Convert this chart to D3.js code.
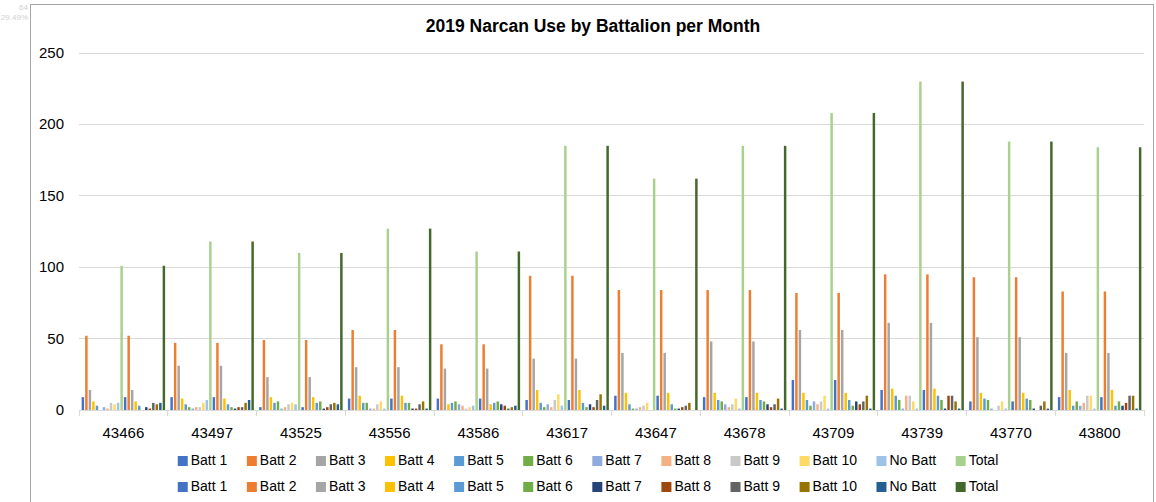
<!DOCTYPE html>
<html>
<head>
<title>2019 Narcan Use by Battalion per Month</title>
<style>
body { margin: 0; background: #fff; }
text { font-family: "Liberation Sans", Arial, sans-serif; fill: #000; }
.grid line, .xaxis line, .xaxis path { stroke: #d9d9d9; shape-rendering: crispEdges; }
</style>
</head>
<body>
<div id="chart"></div>
<script src="https://cdn.jsdelivr.net/npm/d3@7"></script>
<script>
var months = ["43466", "43497", "43525", "43556", "43586", "43617", "43647", "43678", "43709", "43739", "43770", "43800"];
var batt1  = [9, 9, 2, 8, 8, 7, 10, 9, 21, 14, 6, 9];
var batt2  = [52, 47, 49, 56, 46, 94, 84, 84, 82, 95, 93, 83];
var batt3  = [14, 31, 23, 30, 29, 36, 40, 48, 56, 61, 51, 40];
var batt4  = [6, 8, 9, 10, 4, 14, 12, 12, 12, 15, 12, 14];
var batt5  = [3, 4, 5, 5, 5, 5, 4, 7, 7, 10, 8, 3];
var batt6  = [0, 2, 6, 5, 6, 2, 1, 6, 3, 7, 7, 6];
var batt7  = [2, 1, 1, 1, 4, 4, 1, 4, 6, 1, 1, 3];
var batt8  = [1, 2, 2, 1, 3, 2, 2, 2, 4, 10, 0, 5];
var batt9  = [5, 2, 4, 4, 1, 7, 3, 4, 6, 10, 3, 10];
var batt10 = [4, 5, 5, 6, 2, 11, 5, 8, 10, 6, 6, 10];
var noBatt = [5, 7, 4, 1, 3, 3, 0, 1, 1, 1, 1, 1];
var total  = [101, 118, 110, 127, 111, 185, 162, 185, 208, 230, 188, 184];

var seriesNames = ["Batt 1", "Batt 2", "Batt 3", "Batt 4", "Batt 5", "Batt 6", "Batt 7", "Batt 8", "Batt 9", "Batt 10", "No Batt", "Total"];
var seriesValues = [batt1, batt2, batt3, batt4, batt5, batt6, batt7, batt8, batt9, batt10, noBatt, total];
var colors1 = ["#4472c4", "#ed7d31", "#a5a5a5", "#ffc000", "#5b9bd5", "#70ad47", "#8faadc", "#f4b183", "#c9c9c9", "#ffd966", "#9dc3e6", "#a9d18e"];
var colors2 = ["#4472c4", "#ed7d31", "#a5a5a5", "#ffc000", "#5b9bd5", "#70ad47", "#264478", "#9e480e", "#636363", "#997300", "#255e91", "#43682b"];
var yTicks = [0, 50, 100, 150, 200, 250];

// the chart shows the same table twice, the second copy in darker shades
var series = [];
[colors1, colors2].forEach(function(cols, s) {
    seriesNames.forEach(function(name, i) {
        series.push({ key: s + "-" + i, name: name, color: cols[i], values: seriesValues[i] });
    });
});

var W = 1156, H = 502;
var plot = { left: 79, right: 1144, top: 53, bottom: 410 };

var svg = d3.select("#chart").append("svg")
    .attr("width", W)
    .attr("height", H);

// faint stray labels at top left
svg.append("text").attr("x", 28).attr("y", 10).attr("text-anchor", "end")
    .style("font-size", "8px").style("fill", "#d0d0d0").text("64");
svg.append("text").attr("x", 28).attr("y", 20).attr("text-anchor", "end")
    .style("font-size", "8px").style("fill", "#d0d0d0").text("29.49%");

// chart frame
svg.append("rect")
    .attr("x", 30.5).attr("y", 4.5)
    .attr("width", 1123).attr("height", 520)
    .attr("fill", "none")
    .attr("stroke", "#a6a6a6");

var x0 = d3.scaleBand().domain(months).range([plot.left, plot.right]);
var x1 = d3.scaleBand().domain(series.map(function(d) { return d.key; }))
    .range([0, x0.bandwidth()])
    .paddingInner(0.3)
    .paddingOuter(0.75);
var y = d3.scaleLinear().domain([0, 250]).range([plot.bottom, plot.top]);

var grid = svg.append("g").attr("class", "grid");
grid.selectAll("line").data(yTicks.slice(1)).enter().append("line")
    .attr("x1", plot.left).attr("x2", plot.right)
    .attr("y1", function(d) { return y(d); })
    .attr("y2", function(d) { return y(d); });

svg.append("g").selectAll("text").data(yTicks).enter().append("text")
    .attr("x", 64)
    .attr("y", function(d) { return y(d) + 5; })
    .attr("text-anchor", "end")
    .style("font-size", "15px")
    .text(function(d) { return d; });

var groups = svg.append("g").selectAll("g").data(months).enter().append("g")
    .attr("transform", function(m) { return "translate(" + x0(m) + ",0)"; });
groups.selectAll("rect")
    .data(function(m, mi) {
        return series.map(function(s) { return { key: s.key, color: s.color, v: s.values[mi] }; });
    })
    .enter().append("rect")
    .attr("x", function(d) { return x1(d.key); })
    .attr("width", x1.bandwidth())
    .attr("y", function(d) { return y(d.v); })
    .attr("height", function(d) { return plot.bottom - y(d.v); })
    .attr("fill", function(d) { return d.color; });

// category axis with ticks on the band edges
var xaxis = svg.append("g").attr("class", "xaxis");
xaxis.append("line")
    .attr("x1", plot.left).attr("x2", plot.right)
    .attr("y1", plot.bottom).attr("y2", plot.bottom);
xaxis.selectAll("line.tick").data(months.concat(["end"])).enter().append("line")
    .attr("class", "tick")
    .attr("x1", function(m, i) { return plot.left + i * x0.step(); })
    .attr("x2", function(m, i) { return plot.left + i * x0.step(); })
    .attr("y1", plot.bottom).attr("y2", plot.bottom + 6);
xaxis.selectAll("text").data(months).enter().append("text")
    .attr("x", function(m) { return x0(m) + x0.bandwidth() / 2; })
    .attr("y", 438)
    .attr("text-anchor", "middle")
    .style("font-size", "15px")
    .text(function(m) { return m; });

svg.append("text")
    .attr("x", 593).attr("y", 32)
    .attr("text-anchor", "middle")
    .style("font-size", "17.5px")
    .style("font-weight", "bold")
    .text("2019 Narcan Use by Battalion per Month");

// legend: two rows, one per copy of the table
function drawLegendRow(cols, yRow) {
    var row = svg.append("g");
    var items = row.selectAll("g").data(seriesNames).enter().append("g");
    items.append("rect")
        .attr("width", 10).attr("height", 10)
        .attr("y", -9)
        .attr("fill", function(d, i) { return cols[i]; });
    items.append("text")
        .attr("x", 13)
        .style("font-size", "14px")
        .text(function(d) { return d; });
    var xPos = 0;
    var gap = 19.5;
    items.each(function() {
        var w = d3.select(this).select("text").node().getComputedTextLength();
        d3.select(this).attr("transform", "translate(" + xPos + ",0)");
        xPos += 13 + w + gap;
    });
    var totalW = xPos - gap;
    row.attr("transform", "translate(" + (588 - totalW / 2) + "," + yRow + ")");
}
drawLegendRow(colors1, 465);
drawLegendRow(colors2, 491);
</script>
</body>
</html>
